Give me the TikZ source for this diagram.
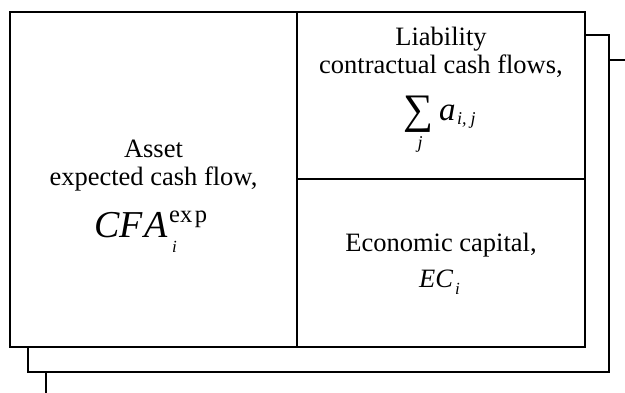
\documentclass[tikz,border=0pt]{standalone}
\usepackage{fontspec}
\setmainfont{Liberation Serif}
\newcommand{\fsz}[1]{\fontsize{#1}{#1}\selectfont}
\begin{document}
\begin{tikzpicture}[x=1pt,y=-1pt,
  frame/.style={line width=2pt,line join=miter},
  body/.style={inner sep=0pt,anchor=base,font=\fsz{26.5}},
  sym/.style={inner sep=0pt,anchor=base west}]
\useasboundingbox (0,0) rectangle (625,392);
\clip (0,0) rectangle (625,392);
% stacked pages behind the main sheet
\draw[frame] (609,60) -- (640,60) -- (640,400) -- (46,400) -- (46,372);
\draw[frame] (585,35) -- (609,35) -- (609,372) -- (28,372) -- (28,347);
% main sheet and its cells
\draw[frame] (10,12) rectangle (585,347);
\draw[frame] (297,12) -- (297,347);
\draw[frame] (297,179) -- (585,179);
% asset cell
\node[body] (asset) at (153.5,157) {Asset};
\node[body] (expcf) at (153.5,185) {expected cash flow,};
\node[sym,anchor=base east,font=\fsz{38}\itshape] (cfa) at (168,237) {C\kern0.5pt F\kern1.5pt A};
\node[sym,font=\fsz{24.5}] (cfaexp) at (169,222) {ex\kern2.5pt p};
\node[sym,font=\fsz{17}\itshape] (cfai) at (172,252) {i};
% liability cell
\node[body] (liab) at (441,45) {Liability};
\node[body] (contr) at (441,73) {contractual cash flows,};
\node[inner sep=0pt,font=\fsz{42}] (sumsym) at (418.5,114) {∑};
\node[sym,font=\fsz{33}\itshape] (aij) at (439,120) {a};
\node[sym,font=\fsz{18}\itshape] (aijsub) at (457,124) {i,\kern4pt j};
\node[body,font=\fsz{18}\itshape] (sumj) at (420,148) {j};
% economic capital cell
\node[body] (econ) at (441,251) {Economic capital,};
\node[sym,font=\fsz{26.5}\itshape] (ec) at (419,287) {EC};
\node[sym,font=\fsz{17}\itshape] (eci) at (455,294) {i};
\end{tikzpicture}
\end{document}
